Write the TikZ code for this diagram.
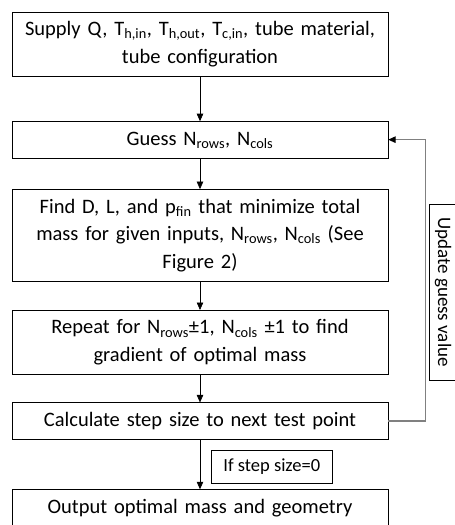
\documentclass[tikz,border=0pt]{standalone}
\usepackage{fontspec}
\setmainfont{Carlito}
\usepackage{tikz}
\usetikzlibrary{arrows.meta,positioning}
\definecolor{loopgray}{RGB}{128,128,128}

\begin{document}
\begin{tikzpicture}[
    x=1pt, y=1pt,
    node distance=29pt,
    box/.style={rectangle, draw, text width=364pt, inner xsep=6pt, inner ysep=4.5pt, align=center, font=\fontsize{20.5}{27.5}\selectfont, execute at begin node=\strut, execute at end node=\strut},
    tag/.style={rectangle, draw, inner sep=3pt, font=\fontsize{18.5}{21}\selectfont},
    arrow/.style={-{Triangle[width=6.5pt,length=7.5pt]}, semithick},
    loop/.style={-{Triangle[width=6.5pt,length=7.5pt,color=black]}, loopgray, line width=1.3pt}
]
\useasboundingbox (0,0) rectangle (455,-525);

% Main flow
\node[box] (supply) at (200,-44) {Supply Q, T\textsubscript{h,in}, T\textsubscript{h,out}, T\textsubscript{c,in}, tube material,\\ tube configuration};
\node[box, below=45pt of supply] (guess) {Guess N\textsubscript{rows}, N\textsubscript{cols}};
\node[box, below=31pt of guess] (find) {Find D, L, and p\textsubscript{fin} that minimize total\\ mass for given inputs, N\textsubscript{rows}, N\textsubscript{cols} (See\\ Figure 2)};
\node[box, below=of find] (repeat) {Repeat for N\textsubscript{rows}±1, N\textsubscript{cols} ±1 to find\\ gradient of optimal mass};
\node[box, below=28pt of repeat] (calc) {Calculate step size to next test point};
\node[box, below=50pt of calc] (output) {Output optimal mass and geometry};

\draw[arrow] (supply) -- (guess);
\draw[arrow] (guess) -- (find);
\draw[arrow] (find) -- (repeat);
\draw[arrow] (repeat) -- (calc);
\draw[arrow] (calc) -- node[tag, anchor=west, xshift=11pt, pos=0.55, minimum width=121pt, minimum height=33pt] (stop) {If step size=0} (output);

% Feedback loop
\draw[loop] (calc.east) -- ++(37,0) |- (guess.east);
\node[tag, rotate=-90, font=\fontsize{19}{22}\selectfont, minimum width=176pt, minimum height=28pt] (update) at (443,-292) {Update guess value};

\end{tikzpicture}
\end{document}
